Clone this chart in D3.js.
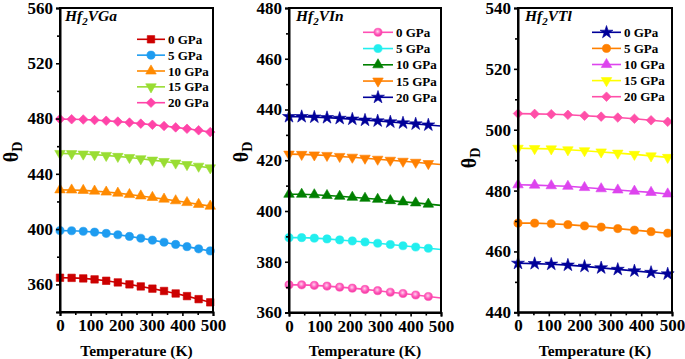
<!DOCTYPE html>
<html>
<head>
<meta charset="utf-8">
<script src="https://cdn.jsdelivr.net/npm/d3@7"></script>
<style>
body { margin: 0; background: #fff; }
svg { display: block; }
text { font-family: "Liberation Serif", "Times New Roman", Times, serif; font-weight: bold; fill: #000; }
</style>
</head>
<body>
<div id="chart"></div>
<script>
const FONT = '"Liberation Serif", "Times New Roman", Times, serif';

// Legend labels, shared by the three panels
const pressureLabels = ["0 GPa", "5 GPa", "10 GPa", "15 GPa", "20 GPa"];
const xTickValues = [0, 100, 200, 300, 400, 500];

// Hf2VGa  (temperature in K, Debye temperature in K)
const tempsGa = [0, 38, 76, 113, 151, 189, 227, 264, 302, 340, 378, 415, 453, 491];
const ga0  = [364.8, 364.7, 364.3, 363.6, 362.6, 361.4, 360.0, 358.5, 356.9, 355.2, 353.4, 351.5, 349.3, 347.0];
const ga5  = [398.9, 398.8, 398.4, 397.8, 396.9, 395.9, 394.7, 393.4, 392.0, 390.5, 388.9, 387.3, 385.7, 384.2];
const ga10 = [428.4, 428.3, 428.0, 427.5, 426.8, 426.0, 425.0, 424.0, 422.9, 421.7, 420.5, 419.2, 417.9, 416.6];
const ga15 = [454.7, 454.6, 454.3, 453.9, 453.3, 452.6, 451.8, 450.9, 449.9, 448.9, 447.8, 446.7, 445.5, 444.3];
const ga20 = [479.6, 479.5, 479.3, 478.9, 478.4, 477.8, 477.1, 476.3, 475.5, 474.6, 473.6, 472.6, 471.5, 470.2];

// Hf2VIn
const tempsIn = [0, 41.7, 83.3, 125, 166.7, 208.3, 250, 291.7, 333.3, 375, 416.7, 458.3, 500];
const in0  = [370.9, 370.9, 370.7, 370.4, 370.0, 369.6, 369.1, 368.6, 368.0, 367.5, 366.9, 366.3, 365.7];
const in5  = [389.5, 389.5, 389.3, 389.0, 388.6, 388.2, 387.8, 387.3, 386.8, 386.3, 385.8, 385.3, 384.8];
const in10 = [406.6, 406.6, 406.4, 406.1, 405.8, 405.4, 405.0, 404.6, 404.1, 403.6, 403.2, 402.7, 402.2];
const in15 = [422.4, 422.3, 422.1, 421.9, 421.5, 421.2, 420.8, 420.4, 420.0, 419.6, 419.2, 418.7, 418.3];
const in20 = [437.2, 437.2, 437.0, 436.8, 436.5, 436.2, 435.8, 435.5, 435.1, 434.7, 434.3, 433.9, 433.5];

// Hf2VTl
const tempsTl = [0, 54, 108, 162, 216, 270, 324, 378, 432, 486];
const tl0  = [456.1, 456.0, 455.8, 455.5, 455.1, 454.6, 454.1, 453.6, 453.1, 452.6];
const tl5  = [469.3, 469.3, 469.1, 468.8, 468.4, 468.0, 467.5, 467.0, 466.5, 466.0];
const tl10 = [481.9, 481.8, 481.6, 481.4, 481.0, 480.6, 480.2, 479.8, 479.4, 478.9];
const tl15 = [493.9, 493.8, 493.7, 493.4, 493.1, 492.7, 492.3, 491.9, 491.4, 490.9];
const tl20 = [505.3, 505.2, 505.1, 504.9, 504.6, 504.3, 504.0, 503.6, 503.1, 502.6];

const W = 685, H = 359;

const svg = d3.select("#chart").append("svg")
    .attr("width", W)
    .attr("height", H);

// shiny pink ball for the Hf2VIn 0 GPa markers
const grad = svg.append("defs").append("radialGradient")
    .attr("id", "pinkBall").attr("cx", "45%").attr("cy", "40%").attr("r", "60%");
grad.append("stop").attr("offset", "0%").attr("stop-color", "#ffd6ef");
grad.append("stop").attr("offset", "55%").attr("stop-color", "#ff5cbc");
grad.append("stop").attr("offset", "100%").attr("stop-color", "#f2359f");

// symbol shapes: name -> [d3 symbol, area, rotation]
const shapes = {
    square:   [d3.symbolSquare, 56, 0],
    circle:   [d3.symbolCircle, 52, 0],
    triUp:    [d3.symbolTriangle, 48, 0],
    triDown:  [d3.symbolTriangle, 48, 180],
    diamond:  [d3.symbolSquare, 46, 45],
    star:     [d3.symbolStar, 52, 0]
};

const panels = [
    {
        name: "VGa", left: 60, right: 213, top: 8, bottom: 312,
        yDomain: [340, 560], yTicks: d3.range(360, 561, 40), yMinor: d3.range(340, 561, 40),
        temps: tempsGa, series: [ga0, ga5, ga10, ga15, ga20], markLast: true,
        colors: ["#cc0000", "#1e9cf0", "#ff8a00", "#99dd33", "#ff44a8"],
        fills: null,
        symbols: ["square", "circle", "triUp", "triDown", "diamond"],
        legend: { x: 137, y: 39.3, dy: 15.85, len: 28 },
        titleX: 65, yLabelX: 18, yLabelY: 152
    },
    {
        name: "VIn", left: 289, right: 441, top: 8, bottom: 312.5,
        yDomain: [360, 480], yTicks: d3.range(360, 481, 20), yMinor: d3.range(370, 480, 20),
        temps: tempsIn, series: [in0, in5, in10, in15, in20], markLast: false,
        colors: ["#ff4fb4", "#22eeee", "#008000", "#ff8000", "#000099"],
        fills: ["url(#pinkBall)", null, null, null, null],
        symbols: ["circle", "circle", "triUp", "triDown", "star"],
        legend: { x: 363, y: 32.3, dy: 16.25, len: 30 },
        titleX: 296, yLabelX: 248, yLabelY: 152
    },
    {
        name: "VTl", left: 518, right: 672, top: 8, bottom: 312.3,
        yDomain: [440, 540], yTicks: d3.range(440, 541, 20), yMinor: d3.range(450, 540, 20),
        temps: tempsTl, series: [tl0, tl5, tl10, tl15, tl20], markLast: true,
        colors: ["#000099", "#ff8000", "#dd44ee", "#ffff00", "#ff4fa8"],
        fills: null,
        symbols: ["star", "circle", "triUp", "triDown", "diamond"],
        legend: { x: 592, y: 32.3, dy: 16.1, len: 29 },
        titleX: 525, yLabelX: 476, yLabelY: 158
    }
];

function drawSymbol(sel, shape, color, fill) {
    const [type, size, rot] = shapes[shape];
    sel.append("path")
        .attr("d", d3.symbol().type(type).size(size))
        .attr("transform", `rotate(${rot})`)
        .attr("fill", fill || color)
        .attr("stroke", color)
        .attr("stroke-width", 0.6);
}

panels.forEach(p => {
    const x = d3.scaleLinear().domain([0, 500]).range([p.left, p.right]);
    const y = d3.scaleLinear().domain(p.yDomain).range([p.bottom, p.top]);
    const g = svg.append("g");

    // series lines and markers
    p.series.forEach((vals, i) => {
        const pts = p.temps.map((t, k) => ({ t, v: vals[k] }));
        const line = d3.line().x(d => x(d.t)).y(d => y(d.v));
        g.append("path")
            .datum(pts)
            .attr("d", line)
            .attr("fill", "none")
            .attr("stroke", p.colors[i])
            .attr("stroke-width", 1.6);

        const marks = p.markLast ? pts : pts.slice(0, -1);
        marks.forEach(d => {
            const m = g.append("g").attr("transform", `translate(${x(d.t)},${y(d.v)})`);
            drawSymbol(m, p.symbols[i], p.colors[i], p.fills ? p.fills[i] : null);
        });
    });

    // frame
    g.append("rect")
        .attr("x", p.left).attr("y", p.top)
        .attr("width", p.right - p.left).attr("height", p.bottom - p.top)
        .attr("fill", "none").attr("stroke", "#000").attr("stroke-width", 2);

    // x axis: major ticks with labels, minor ticks between
    const xAxis = g.append("g")
        .attr("transform", `translate(0,${p.bottom})`)
        .call(d3.axisBottom(x).tickValues(xTickValues).tickSize(4).tickPadding(3));
    g.append("g")
        .attr("transform", `translate(0,${p.bottom})`)
        .call(d3.axisBottom(x).tickValues(d3.range(50, 500, 100)).tickSize(3).tickFormat(""))
        .call(a => a.select(".domain").remove());

    // y axis
    const yAxis = g.append("g")
        .attr("transform", `translate(${p.left},0)`)
        .call(d3.axisLeft(y).tickValues(p.yTicks).tickSize(4).tickPadding(3));
    g.append("g")
        .attr("transform", `translate(${p.left},0)`)
        .call(d3.axisLeft(y).tickValues(p.yMinor).tickSize(3).tickFormat(""))
        .call(a => a.select(".domain").remove());

    [xAxis, yAxis].forEach(a => {
        a.select(".domain").attr("stroke-width", 2);
        a.selectAll(".tick text")
            .style("font-family", FONT)
            .style("font-weight", "bold")
            .style("font-size", "17px")
            .attr("fill", "#000");
    });
    g.selectAll(".tick line").attr("stroke-width", 1.6);

    // compound title with subscript
    const title = g.append("text")
        .attr("x", p.titleX).attr("y", 21)
        .style("font-size", "15.5px").style("font-style", "italic");
    title.append("tspan").text("Hf");
    title.append("tspan").attr("dy", 4).style("font-size", "11px").text("2");
    title.append("tspan").attr("dy", -4).text(p.name);

    // y-axis label θD
    const yl = g.append("text")
        .attr("transform", `translate(${p.yLabelX},${p.yLabelY}) rotate(-90)`)
        .attr("text-anchor", "middle")
        .style("font-size", "20px");
    yl.append("tspan").text("θ");
    yl.append("tspan").attr("dy", 4).style("font-size", "14px").text("D");

    // x-axis label
    g.append("text")
        .attr("x", (p.left + p.right) / 2).attr("y", 356)
        .attr("text-anchor", "middle")
        .style("font-size", "15.5px")
        .text("Temperature (K)");

    // legend
    pressureLabels.forEach((lab, i) => {
        const ly = p.legend.y + i * p.legend.dy;
        g.append("line")
            .attr("x1", p.legend.x).attr("x2", p.legend.x + p.legend.len)
            .attr("y1", ly).attr("y2", ly)
            .attr("stroke", p.colors[i]).attr("stroke-width", 1.6);
        const m = g.append("g").attr("transform", `translate(${p.legend.x + p.legend.len / 2},${ly})`);
        drawSymbol(m, p.symbols[i], p.colors[i], p.fills ? p.fills[i] : null);
        g.append("text")
            .attr("x", p.legend.x + p.legend.len + 3).attr("y", ly + 4.5)
            .style("font-size", "13px")
            .text(lab);
    });
});
</script>
</body>
</html>
